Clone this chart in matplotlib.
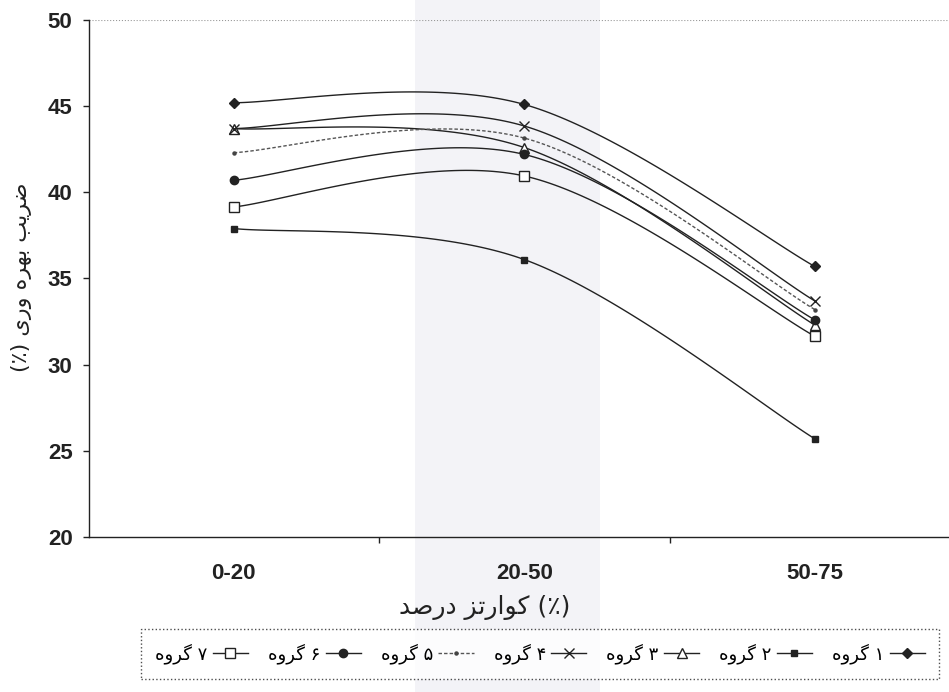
import numpy as np
import matplotlib
matplotlib.use("Agg")
import matplotlib.pyplot as plt
from matplotlib.lines import Line2D
from matplotlib.patches import Rectangle

# ---------------- data ----------------
categories = ["0-20", "20-50", "50-75"]
g1 = [45.2, 45.1, 35.7]
g2 = [37.9, 36.1, 25.7]
g3 = [43.7, 42.6, 32.3]
g4 = [43.7, 43.85, 33.7]
g5 = [42.3, 43.15, 33.2]
g6 = [40.7, 42.2, 32.6]
g7 = [39.15, 40.95, 31.65]
series = [g1, g2, g3, g4, g5, g6, g7]
digits = ["۱", "۲", "۳", "۴", "۵", "۶", "۷"]
yticks = [20, 25, 30, 35, 40, 45, 50]

# ---------------- simple Persian shaping ----------------
FORMS = {
    "ا": ("\uFE8D", "\uFE8E", None, None),
    "ب": ("\uFE8F", "\uFE90", "\uFE91", "\uFE92"),
    "ت": ("\uFE95", "\uFE96", "\uFE97", "\uFE98"),
    "د": ("\uFEA9", "\uFEAA", None, None),
    "ر": ("\uFEAD", "\uFEAE", None, None),
    "ز": ("\uFEAF", "\uFEB0", None, None),
    "ص": ("\uFEB9", "\uFEBA", "\uFEBB", "\uFEBC"),
    "ض": ("\uFEBD", "\uFEBE", "\uFEBF", "\uFEC0"),
    "ه": ("\uFEE9", "\uFEEA", "\uFEEB", "\uFEEC"),
    "و": ("\uFEED", "\uFEEE", None, None),
    "ی": ("\uFBFC", "\uFBFD", "\uFBFE", "\uFBFF"),
    "ک": ("\uFB8E", "\uFB8F", "\uFB90", "\uFB91"),
    "گ": ("\uFB92", "\uFB93", "\uFB94", "\uFB95"),
}


def dual(c):
    return c in FORMS and FORMS[c][2] is not None


def vis(word):
    out = []
    n = len(word)
    for i, c in enumerate(word):
        if c not in FORMS:
            out.append(c)
            continue
        pc = i > 0 and dual(word[i - 1])
        nc = i < n - 1 and dual(c) and word[i + 1] in FORMS
        iso, fin, ini, med = FORMS[c]
        if pc and nc:
            out.append(med)
        elif pc:
            out.append(fin)
        elif nc:
            out.append(ini)
        else:
            out.append(iso)
    return "".join(reversed(out))


ylabel_txt = "(٪) " + vis("وری") + " " + vis("بهره") + " " + vis("ضریب")
xlabel_txt = vis("درصد") + " " + vis("کوارتز") + " (٪)"
legend_labels = [vis("گروه") + " " + d for d in digits]


# ---------------- Excel-like smoothing ----------------
def smooth(xs, ys, n=60):
    P = np.column_stack([xs, ys]).astype(float)
    m = len(P)
    cx, cy = [], []
    for i in range(m - 1):
        p0 = P[i - 1] if i > 0 else P[i]
        p1 = P[i]
        p2 = P[i + 1]
        p3 = P[i + 2] if i + 2 < m else P[i + 1]
        c1 = p1 + (p2 - p0) / 6.0
        c2 = p2 - (p3 - p1) / 6.0
        t = np.linspace(0, 1, n)[:, None]
        b = ((1 - t) ** 3) * p1 + 3 * ((1 - t) ** 2) * t * c1 + 3 * (1 - t) * t ** 2 * c2 + t ** 3 * p2
        cx.extend(b[:, 0])
        cy.extend(b[:, 1])
    return np.array(cx), np.array(cy)


# ---------------- figure ----------------
fig = plt.figure(figsize=(9.49, 6.92), dpi=100)
fig.patch.set_facecolor("white")
fig.patches.append(Rectangle((415 / 949, 0), 185 / 949, 1, transform=fig.transFigure,
                             facecolor="#f3f3f7", edgecolor="none", zorder=-5))

ax = fig.add_axes([88.5 / 949, 1 - 537 / 692, (960 - 88.5) / 949, (537 - 20) / 692])
ax.patch.set_alpha(0)
ax.set_zorder(2)

styles = [
    dict(marker="D", ms=5.5, mfc="#222222", mec="#222222", ls="-"),
    dict(marker="s", ms=4.5, mfc="#222222", mec="#222222", ls="-"),
    dict(marker="^", ms=7, mfc="white", mec="#222222", ls="-"),
    dict(marker="x", ms=7, mfc="#222222", mec="#222222", ls="-"),
    dict(marker="o", ms=2.2, mfc="#444444", mec="#444444", ls=(0, (2.5, 1.5))),
    dict(marker="o", ms=6, mfc="#222222", mec="#222222", ls="-"),
    dict(marker="s", ms=7, mfc="white", mec="#222222", ls="-"),
]

xs = np.arange(len(categories))
handles = []
for vals, st, lab in zip(series, styles, legend_labels):
    sx, sy = smooth(xs, vals)
    col = "#555555" if st["ls"] != "-" else "#222222"
    ax.plot(sx, sy, color=col, lw=1.0, ls=st["ls"], zorder=2)
    ax.plot(xs, vals, ls="none", marker=st["marker"], ms=st["ms"], mfc=st["mfc"],
            mec=st["mec"], mew=1.0, zorder=3)
    handles.append(Line2D([], [], color=col, lw=1.0, ls=st["ls"], marker=st["marker"],
                          ms=st["ms"], mfc=st["mfc"], mec=st["mec"], mew=1.0, label=lab))

ax.set_xlim(-0.5, 2.5)
ax.set_ylim(20, 50)
ax.axhline(50, color="#999999", lw=0.8, ls=":", zorder=1)

for s in ["top", "right"]:
    ax.spines[s].set_visible(False)
for s in ["left", "bottom"]:
    ax.spines[s].set_linewidth(1.0)
    ax.spines[s].set_color("#222222")

ax.set_yticks(yticks)
ax.set_yticklabels([str(v) for v in yticks], fontfamily="Liberation Sans",
                   fontweight="bold", fontsize=16)
ax.tick_params(axis="y", direction="out", length=4.5, width=1.0, pad=7, colors="#222222")

ax.set_xticks(xs)
ax.set_xticklabels(categories, fontfamily="Liberation Sans", fontweight="bold", fontsize=16)
ax.set_xticks([0.5, 1.5], minor=True)
ax.tick_params(axis="x", which="major", length=0, pad=19, colors="#222222")
ax.tick_params(axis="x", which="minor", direction="out", length=4.5, width=1.0, colors="#222222")

fig.text(485 / 949, 1 - 607 / 692, xlabel_txt, family=["DejaVu Sans"], fontsize=18,
         ha="center", va="center", color="#222222")
fig.text(22 / 949, 1 - 277 / 692, ylabel_txt, family=["DejaVu Sans"], fontsize=16,
         ha="center", va="center", rotation=90, color="#222222")

leg = fig.legend(handles[::-1], legend_labels[::-1], loc="center",
                 bbox_to_anchor=(540 / 949, 1 - 654 / 692), ncol=7, markerfirst=False,
                 frameon=True, fancybox=False, prop={"family": "DejaVu Sans", "size": 13},
                 handlelength=1.95, handletextpad=0.3, columnspacing=1.1, borderpad=0.8)
fr = leg.get_frame()
fr.set_linestyle(":")
fr.set_edgecolor("#222222")
fr.set_linewidth(1.0)

fig.savefig("out.png", dpi=100)
